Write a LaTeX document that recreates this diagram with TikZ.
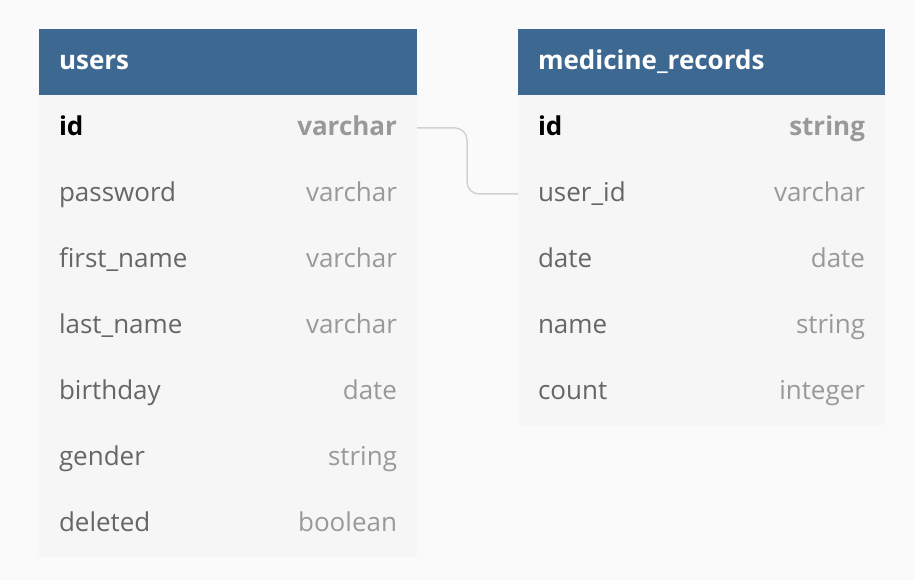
\documentclass[tikz,border=0pt]{standalone}
\usepackage{fontspec}
\setmainfont{Open Sans}
\usepackage{xcolor}
\usepackage{tikz}
\usetikzlibrary{positioning, backgrounds}
\definecolor{pagegray}{HTML}{FAFAFA}
\definecolor{bodygray}{HTML}{F6F6F6}
\definecolor{headblue}{HTML}{3D6891}
\definecolor{namegray}{HTML}{666666}
\definecolor{typegray}{HTML}{999999}
\definecolor{linkgray}{HTML}{D2D2D2}

\begin{document}
\begin{tikzpicture}[
x=1pt, y=1pt,
tablehead/.style={rectangle, fill=headblue, text=white, minimum height=66pt, text width=338pt, text height=20pt, text depth=5pt, inner xsep=20pt, inner ysep=0pt, outer sep=0pt, font=\fontsize{26}{30}\selectfont\bfseries},
fieldrow/.style={rectangle, minimum height=66pt, text width=338pt, text height=20pt, text depth=5pt, inner xsep=20pt, inner ysep=0pt, outer sep=0pt, text=namegray, font=\fontsize{26}{30}\selectfont},
keyrow/.style={fieldrow, text=black, font=\fontsize{26}{30}\selectfont\bfseries},
]
\useasboundingbox (0,0) rectangle (914,580);
%Users table
\node[tablehead, anchor=north west](users) at (39,551){users};
\node[keyrow](u-id)[below=0pt of users]{id\hfill\textcolor{typegray}{varchar}};
\node[fieldrow](u-password)[below=0pt of u-id]{password\hfill\textcolor{typegray}{varchar}};
\node[fieldrow](u-firstname)[below=0pt of u-password]{first\_name\hfill\textcolor{typegray}{varchar}};
\node[fieldrow](u-lastname)[below=0pt of u-firstname]{last\_name\hfill\textcolor{typegray}{varchar}};
\node[fieldrow](u-birthday)[below=0pt of u-lastname]{birthday\hfill\textcolor{typegray}{date}};
\node[fieldrow](u-gender)[below=0pt of u-birthday]{gender\hfill\textcolor{typegray}{string}};
\node[fieldrow](u-deleted)[below=0pt of u-gender]{deleted\hfill\textcolor{typegray}{boolean}};
%Medicine records table
\node[tablehead, anchor=north west, text width=327pt](records) at (518,551){medicine\_records};
\node[keyrow, text width=327pt](m-id)[below=0pt of records]{id\hfill\textcolor{typegray}{string}};
\node[fieldrow, text width=327pt](m-userid)[below=0pt of m-id]{user\_id\hfill\textcolor{typegray}{varchar}};
\node[fieldrow, text width=327pt](m-date)[below=0pt of m-userid]{date\hfill\textcolor{typegray}{date}};
\node[fieldrow, text width=327pt](m-name)[below=0pt of m-date]{name\hfill\textcolor{typegray}{string}};
\node[fieldrow, text width=327pt](m-count)[below=0pt of m-name]{count\hfill\textcolor{typegray}{integer}};
%Table bodies
\begin{scope}[on background layer]
\fill[pagegray] (0,0) rectangle (914,580);
\fill[bodygray] (u-id.north west) rectangle (u-deleted.south east);
\fill[bodygray] (m-id.north west) rectangle (m-count.south east);
\end{scope}
%Link
\draw[linkgray, line width=1.5pt, rounded corners=12pt] (u-id.east) -- ++(50,0) |- (m-userid.west);
\end{tikzpicture}
\end{document}
